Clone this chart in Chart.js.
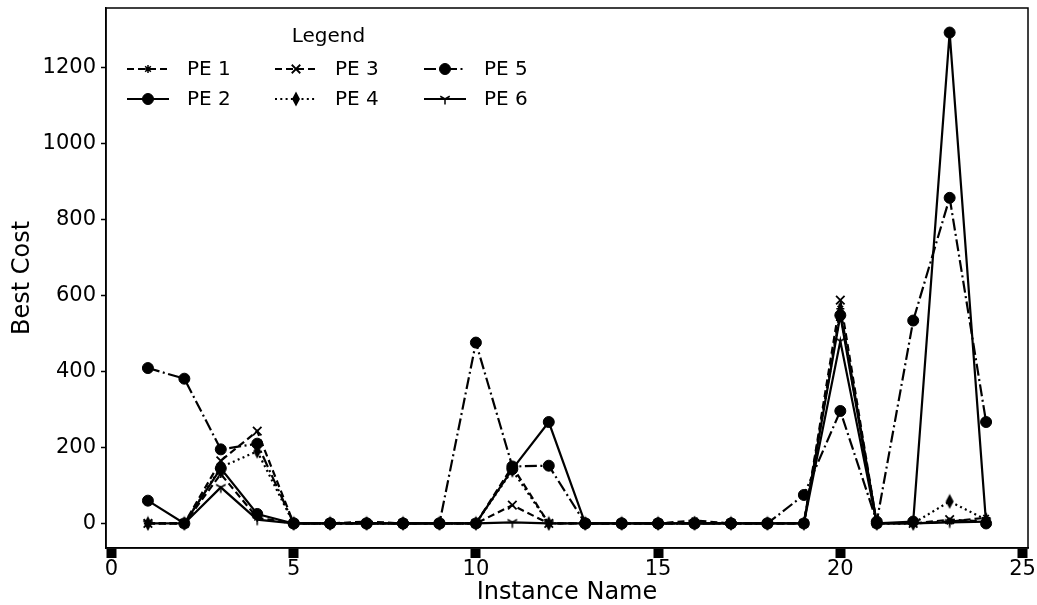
<!DOCTYPE html>
<html>
<head>
<meta charset="utf-8">
<script src="https://cdn.jsdelivr.net/npm/chart.js@4.4.1/dist/chart.umd.min.js"></script>
<style>
html,body{margin:0;padding:0;background:#fff;}
#wrap{width:1037px;height:605px;}
</style>
</head>
<body>
<div id="wrap"><canvas id="c" width="1037" height="605"></canvas></div>
<script>
// ---- data ----
const instances = [1,2,3,4,5,6,7,8,9,10,11,12,13,14,15,16,17,18,19,20,21,22,23,24];
const seriesNames = ["PE 1","PE 2","PE 3","PE 4","PE 5","PE 6"];
const pe1 = [0,0,130,15,0,0,5,0,0,0,150,0,0,0,0,8,0,0,0,565,0,0,5,15];
const pe2 = [60,0,145,25,0,0,0,0,0,0,143,267,0,0,0,0,0,0,0,548,0,5,1292,0];
const pe3 = [0,0,165,243,0,0,0,0,0,0,48,0,0,0,0,0,0,0,0,588,0,0,10,5];
const pe4 = [0,0,148,190,0,0,0,0,0,0,140,0,0,0,0,0,0,0,0,555,0,0,58,10];
const pe5 = [409,381,195,210,0,0,0,0,0,476,150,152,0,0,0,0,0,0,75,296,5,534,857,267];
const pe6 = [0,0,95,10,0,0,0,0,0,0,3,0,0,0,0,0,0,0,0,480,0,0,3,5];
const xTicks = [0,5,10,15,20,25];
const yTicks = [0,200,400,600,800,1000,1200];
const xTitle = "Instance Name";
const yTitle = "Best Cost";
const legendTitle = "Legend";

// ---- custom markers ----
function thinDiamond(){
  const c=document.createElement('canvas'); c.width=10; c.height=16;
  const g=c.getContext('2d'); g.fillStyle='#000';
  g.beginPath(); g.moveTo(5,0.5); g.lineTo(9,8); g.lineTo(5,15.5); g.lineTo(1,8); g.closePath(); g.fill();
  return c;
}
function triDown(){
  const c=document.createElement('canvas'); c.width=14; c.height=14;
  const g=c.getContext('2d'); g.strokeStyle='#000'; g.lineWidth=1.5;
  const cx=7,cy=7,r=5.5;
  g.beginPath();
  g.moveTo(cx,cy); g.lineTo(cx,cy+r);
  g.moveTo(cx,cy); g.lineTo(cx-0.866*r,cy-0.5*r);
  g.moveTo(cx,cy); g.lineTo(cx+0.866*r,cy-0.5*r);
  g.stroke();
  return c;
}

const styles = [
  {dash:[7,4], style:'star', r:4, bw:1.5},
  {dash:[], style:'circle', r:5.5, bw:1},
  {dash:[7,4], style:'crossRot', r:6, bw:1.8},
  {dash:[2,3.3], style:thinDiamond(), r:6, bw:1},
  {dash:[12,3.5,2,3.5], style:'circle', r:5.5, bw:1},
  {dash:[], style:triDown(), r:6, bw:1}
];
const allSeries = [pe1,pe2,pe3,pe4,pe5,pe6];

const datasets = allSeries.map((vals,i)=>({
  label: seriesNames[i],
  data: instances.map((x,j)=>({x:x,y:vals[j]})),
  borderColor:'#000',
  backgroundColor:'#000',
  borderWidth:2.2,
  borderDash: styles[i].dash,
  pointStyle: styles[i].style,
  pointRadius: styles[i].r,
  pointBorderWidth: styles[i].bw,
  pointBorderColor:'#000',
  pointBackgroundColor:'#000',
  tension:0,
  fill:false,
  order: 6-i
}));

const framePlugin = {
  id:'frame',
  afterDatasetsDraw(chart){
    const {ctx, chartArea:a} = chart;
    ctx.save();
    ctx.strokeStyle='#000'; ctx.lineWidth=1.5;
    ctx.strokeRect(a.left, a.top, a.right-a.left, a.bottom-a.top);
    ctx.restore();
  }
};

const legendPlugin = {
  id:'mplLegend',
  afterDraw(chart){
    const ctx = chart.ctx;
    ctx.save();
    ctx.fillStyle='#000';
    ctx.font='20px "DejaVu Sans"';
    ctx.textBaseline='middle';
    ctx.textAlign='center';
    ctx.fillText(legendTitle, 328.5, 36.5);
    const colX=[127,275,424];
    const rowY=[69,99];
    const hl=42;
    ctx.textAlign='left';
    datasets.forEach((ds,i)=>{
      const col=Math.floor(i/2), row=i%2;
      const x0=colX[col], y=rowY[row];
      ctx.save();
      ctx.strokeStyle='#000'; ctx.lineWidth=ds.borderWidth;
      ctx.setLineDash(ds.borderDash);
      ctx.beginPath(); ctx.moveTo(x0,y); ctx.lineTo(x0+hl,y); ctx.stroke();
      ctx.setLineDash([]);
      ctx.fillStyle='#000'; ctx.strokeStyle='#000';
      ctx.lineWidth=ds.pointBorderWidth;
      Chart.helpers.drawPoint(ctx,{pointStyle:ds.pointStyle, radius:ds.pointRadius, rotation:0, borderWidth:ds.pointBorderWidth}, x0+hl/2, y);
      ctx.restore();
      ctx.fillStyle='#000';
      ctx.fillText(ds.label, x0+hl+18, y+1);
    });
    ctx.restore();
  }
};

new Chart(document.getElementById('c'), {
  type:'line',
  data:{datasets},
  options:{
    responsive:false,
    animation:false,
    devicePixelRatio:1,
    layout:{padding:{top:8,right:9,left:0,bottom:0}},
    plugins:{legend:{display:false}, tooltip:{enabled:false}},
    scales:{
      x:{
        type:'linear',
        min:-0.15, max:25.15,
        afterBuildTicks(s){ s.ticks = xTicks.map(v=>({value:v})); },
        afterFit(s){ s.height=57; s.paddingLeft=0; s.paddingRight=0; },
        grid:{drawOnChartArea:false, drawTicks:true, tickLength:10, tickWidth:10, tickColor:'#000'},
        border:{display:true, color:'#000', width:1.5},
        ticks:{color:'#000', font:{family:'DejaVu Sans', size:21}, padding:-1, maxRotation:0, autoSkip:false, callback:(v)=>String(v)},
        title:{display:true, text:xTitle, color:'#000', font:{family:'DejaVu Sans', size:24, lineHeight:1}, padding:{top:0,bottom:0}}
      },
      y:{
        type:'linear',
        min:-64.6, max:1356.6,
        afterBuildTicks(s){ s.ticks = yTicks.map(v=>({value:v})); },
        afterFit(s){ s.width=106; s.paddingTop=0; s.paddingBottom=0; },
        grid:{drawOnChartArea:false, drawTicks:true, tickLength:5, tickWidth:1.5, tickColor:'#000'},
        border:{display:true, color:'#000', width:1.5},
        ticks:{color:'#000', font:{family:'DejaVu Sans', size:21}, padding:5, callback:(v)=>String(v)},
        title:{display:true, text:yTitle, color:'#000', font:{family:'DejaVu Sans', size:24, lineHeight:1}, padding:{top:11,bottom:0}}
      }
    }
  },
  plugins:[framePlugin, legendPlugin]
});
</script>
</body>
</html>
